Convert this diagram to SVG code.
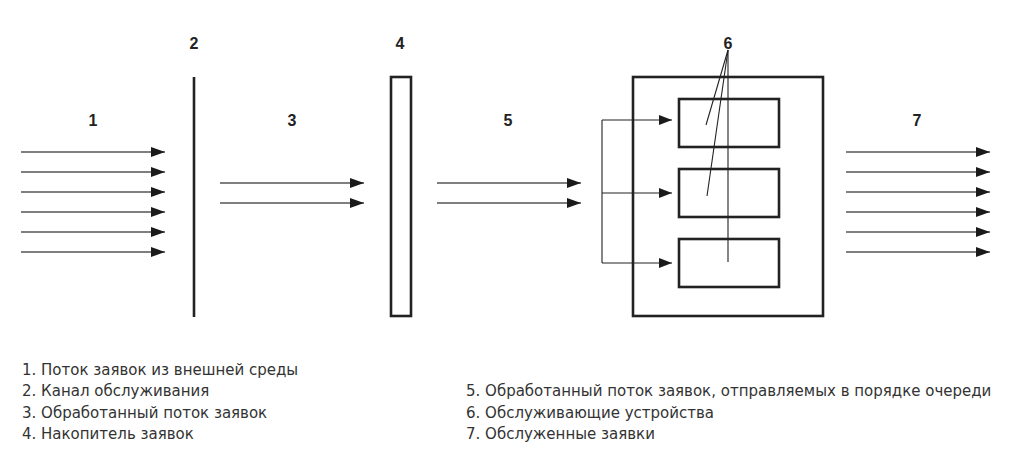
<svg xmlns="http://www.w3.org/2000/svg" width="1024" height="470" viewBox="0 0 1024 470">
<style>
.num{font-family:"Liberation Sans",Arial,sans-serif;font-size:16px;font-weight:bold;fill:#222;text-anchor:middle}
.leg{font-family:"DejaVu Sans",sans-serif;font-size:15px;fill:#333}
.flow{stroke:#555;stroke-width:1.6;fill:none;marker-end:url(#ah)}
.thin{stroke:#222;stroke-width:1.1;fill:none}
.box{stroke:#222;stroke-width:2.6;fill:#fff}
</style>
<defs>
<marker id="ah" markerUnits="userSpaceOnUse" markerWidth="14" markerHeight="10" refX="14" refY="5" orient="auto"><path d="M0,0 L14,5 L0,10 z" fill="#1a1a1a"/></marker>
<marker id="ah2" markerUnits="userSpaceOnUse" markerWidth="13" markerHeight="10" refX="13" refY="5" orient="auto"><path d="M0,0 L13,5 L0,10 z" fill="#1a1a1a"/></marker>
</defs>
<rect width="1024" height="470" fill="#fff"/>

<g id="n1">
<text class="num" x="93" y="126">1</text>
</g>
<g id="n2">
<text class="num" x="194" y="49">2</text>
<line x1="194" y1="77" x2="194" y2="317" stroke="#222" stroke-width="2.6"/>
</g>
<g id="n3">
<text class="num" x="292" y="126">3</text>
</g>
<g id="n4">
<text class="num" x="400" y="49">4</text>
<rect class="box" x="391" y="77" width="20" height="239"/>
</g>
<g id="n5">
<text class="num" x="508" y="126">5</text>
</g>
<g id="n6">
<text class="num" x="728" y="49">6</text>
<rect class="box" x="633" y="77" width="190" height="239"/>
<rect class="box" x="679" y="99" width="100" height="48"/>
<rect class="box" x="679" y="169" width="100" height="48"/>
<rect class="box" x="679" y="239" width="100" height="48"/>
</g>
<g id="n7">
<text class="num" x="917" y="126">7</text>
</g>

<g id="connectors">
<line class="flow" x1="21" y1="152" x2="165" y2="152"/>
<line class="flow" x1="21" y1="172" x2="165" y2="172"/>
<line class="flow" x1="21" y1="192" x2="165" y2="192"/>
<line class="flow" x1="21" y1="212" x2="165" y2="212"/>
<line class="flow" x1="21" y1="232" x2="165" y2="232"/>
<line class="flow" x1="21" y1="252" x2="165" y2="252"/>

<line class="flow" x1="220" y1="183" x2="364" y2="183"/>
<line class="flow" x1="220" y1="203" x2="364" y2="203"/>

<line class="flow" x1="437" y1="183" x2="581" y2="183"/>
<line class="flow" x1="437" y1="203" x2="581" y2="203"/>

<polyline class="thin" points="602,120 602,263"/>
<line class="thin" x1="602" y1="120" x2="672" y2="120" marker-end="url(#ah2)"/>
<line class="thin" x1="602" y1="193" x2="672" y2="193" marker-end="url(#ah2)"/>
<line class="thin" x1="602" y1="263" x2="672" y2="263" marker-end="url(#ah2)"/>

<line class="thin" x1="728" y1="50" x2="706" y2="125"/>
<line class="thin" x1="728" y1="50" x2="707" y2="196"/>
<line class="thin" x1="728" y1="50" x2="728" y2="262"/>

<line class="flow" x1="846" y1="152" x2="990" y2="152"/>
<line class="flow" x1="846" y1="172" x2="990" y2="172"/>
<line class="flow" x1="846" y1="192" x2="990" y2="192"/>
<line class="flow" x1="846" y1="212" x2="990" y2="212"/>
<line class="flow" x1="846" y1="232" x2="990" y2="232"/>
<line class="flow" x1="846" y1="252" x2="990" y2="252"/>
</g>

<g id="legend">
<text class="leg" x="22" y="375">1. Поток заявок из внешней среды</text>
<text class="leg" x="22" y="396">2. Канал обслуживания</text>
<text class="leg" x="22" y="418">3. Обработанный поток заявок</text>
<text class="leg" x="22" y="439">4. Накопитель заявок</text>
<text class="leg" x="466" y="396">5. Обработанный поток заявок, отправляемых в порядке очереди</text>
<text class="leg" x="466" y="418">6. Обслуживающие устройства</text>
<text class="leg" x="466" y="439">7. Обслуженные заявки</text>
</g>
</svg>
